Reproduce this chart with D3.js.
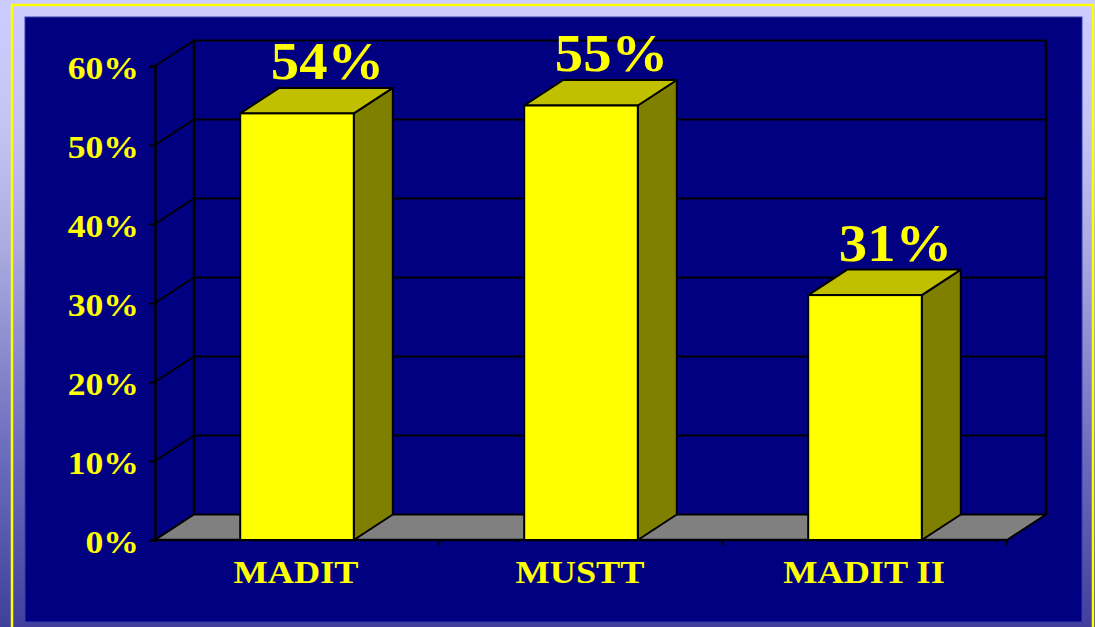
<!DOCTYPE html>
<html>
<head>
<meta charset="utf-8">
<script src="https://cdn.jsdelivr.net/npm/d3@7"></script>
<style>
  html, body { margin: 0; padding: 0; background: #ccccff; }
  svg { display: block; }
  text { font-family: "Liberation Serif", "Times New Roman", serif; font-weight: bold; fill: #ffff00; }
</style>
</head>
<body>
<svg id="chart" width="1095" height="627"></svg>
<script>
// Trial names and the share of patients for each
const categories = ["MADIT", "MUSTT", "MADIT II"];
const values = [0.54, 0.55, 0.31];
const valueLabels = ["54%", "55%", "31%"];
const yTicks = [0, 0.1, 0.2, 0.3, 0.4, 0.5, 0.6];

const W = 1095, H = 627;
const svg = d3.select("#chart");

// slide backdrop: lavender fading to deep blue-violet
const defs = svg.append("defs");
const grad = defs.append("linearGradient")
  .attr("id", "bg").attr("x1", 0).attr("y1", 0).attr("x2", 0).attr("y2", 1);
[[0, "#ccccff"], [0.2, "#c4c4f4"], [0.4, "#aaaae0"], [0.7, "#7070c0"], [1, "#40409c"]]
  .forEach(([o, c]) => grad.append("stop").attr("offset", o).attr("stop-color", c));
svg.append("rect").attr("width", W).attr("height", H).attr("fill", "url(#bg)");

// thin yellow frame, open at the bottom
svg.append("path")
  .attr("d", "M12,640 L12,5 L1093,5 L1093,640")
  .attr("fill", "none").attr("stroke", "#ffff00").attr("stroke-width", 2.5);

// navy panel
svg.append("rect")
  .attr("x", 25).attr("y", 17).attr("width", 1057).attr("height", 605)
  .attr("fill", "#000080").attr("stroke", "#3a3ab0").attr("stroke-width", 1);

// 3-D plot geometry
const plot = { left: 155, right: 1007, bottom: 540, top: 66 };
const depth = { dx: 39, dy: -25.5 };

const x = d3.scaleBand()
  .domain(categories)
  .range([plot.left, plot.right])
  .paddingInner(0.6)
  .paddingOuter(0.3);

const y = d3.scaleLinear().domain([0, 0.6]).range([plot.bottom, plot.top]);

const g = svg.append("g");
const line = d3.line();
const stroke = "#000000";

// back wall and side wall gridlines
yTicks.forEach(t => {
  const yf = y(t), yb = y(t) + depth.dy;
  if (t > 0) {
    g.append("path")
      .attr("d", line([[plot.left + depth.dx, yb], [plot.right + depth.dx, yb]]))
      .attr("stroke", stroke).attr("stroke-width", 2).attr("fill", "none");
  }
  g.append("path")
    .attr("d", line([[plot.left, yf], [plot.left + depth.dx, yb]]))
    .attr("stroke", stroke).attr("stroke-width", 2).attr("fill", "none");
});

// back wall vertical edges
const backTop = y(0.6) + depth.dy, backBottom = y(0) + depth.dy;
[plot.left + depth.dx, plot.right + depth.dx].forEach(xx => {
  g.append("path")
    .attr("d", line([[xx, backTop], [xx, backBottom]]))
    .attr("stroke", stroke).attr("stroke-width", 2.5).attr("fill", "none");
});

// floor
g.append("path")
  .attr("d", line([
    [plot.left, y(0)], [plot.right, y(0)],
    [plot.right + depth.dx, y(0) + depth.dy], [plot.left + depth.dx, y(0) + depth.dy]
  ]) + "Z")
  .attr("fill", "#808080").attr("stroke", stroke).attr("stroke-width", 2);

// value axis (front left edge) with ticks
const yAxis = d3.axisLeft(y).tickValues(yTicks).tickSize(6).tickFormat(d3.format(".0%"));
const yAxisG = g.append("g").attr("transform", `translate(${plot.left},0)`).call(yAxis);
yAxisG.select(".domain").attr("stroke", stroke).attr("stroke-width", 2.5);
yAxisG.selectAll(".tick line").attr("stroke", stroke).attr("stroke-width", 2);
yAxisG.selectAll(".tick text")
  .attr("x", null).attr("dy", null)
  .attr("text-anchor", "end")
  .attr("font-size", 31)
  .attr("fill", "#ffff00")
  .attr("transform", "translate(-16,12.5) scale(1.15,1)")
  .style("font-family", "'Liberation Serif', 'Times New Roman', serif")
  .style("font-weight", "bold");

// category axis (front floor edge): ticks between categories
const step = x.step();
const boundaries = d3.range(categories.length + 1).map(i => plot.left + i * step);
g.append("path")
  .attr("d", line([[plot.left, y(0)], [plot.right, y(0)]]))
  .attr("stroke", stroke).attr("stroke-width", 2.5);
boundaries.slice(1).forEach(bx => {
  g.append("path")
    .attr("d", line([[bx, y(0)], [bx, y(0) + 5]]))
    .attr("stroke", stroke).attr("stroke-width", 2);
});

// bars: front face, top and right side
const bars = g.selectAll(".bar").data(categories.map((c, i) => ({ c, v: values[i], label: valueLabels[i] })))
  .enter().append("g").attr("class", "bar");

bars.each(function(d) {
  const b = d3.select(this);
  const x0 = x(d.c), x1 = x(d.c) + x.bandwidth();
  const y0 = y(0), y1 = y(d.v);
  // side
  b.append("path")
    .attr("d", line([[x1, y0], [x1 + depth.dx, y0 + depth.dy], [x1 + depth.dx, y1 + depth.dy], [x1, y1]]) + "Z")
    .attr("fill", "#808000").attr("stroke", stroke).attr("stroke-width", 2).attr("stroke-linejoin", "round");
  // top
  b.append("path")
    .attr("d", line([[x0, y1], [x0 + depth.dx, y1 + depth.dy], [x1 + depth.dx, y1 + depth.dy], [x1, y1]]) + "Z")
    .attr("fill", "#c0c000").attr("stroke", stroke).attr("stroke-width", 2).attr("stroke-linejoin", "round");
  // front
  b.append("rect")
    .attr("x", x0).attr("y", y1).attr("width", x.bandwidth()).attr("height", y0 - y1)
    .attr("fill", "#ffff00").attr("stroke", stroke).attr("stroke-width", 2);
  // value label above the bar
  const cx = x0 + x.bandwidth() / 2 + depth.dx / 2 + 11;
  const by = y1 + depth.dy - 9;
  b.append("text")
    .attr("transform", `translate(${cx},${by}) scale(1.09,1)`)
    .attr("text-anchor", "middle")
    .attr("font-size", 52)
    .text(d.label);
});

// category labels
g.selectAll(".cat").data(categories).enter().append("text")
  .attr("class", "cat")
  .attr("transform", d => `translate(${x(d) + x.bandwidth() / 2 - 1},583) scale(1.17,1)`)
  .attr("text-anchor", "middle")
  .attr("font-size", 31)
  .text(d => d);
</script>
</body>
</html>
